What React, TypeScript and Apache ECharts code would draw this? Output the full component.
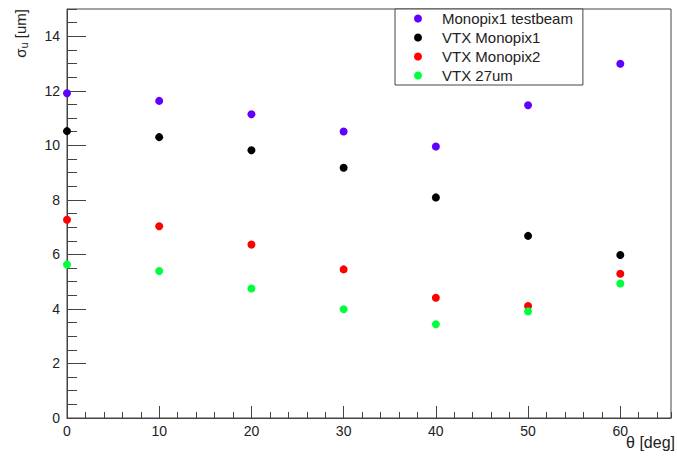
import React, { useEffect, useRef } from "react";
import * as echarts from "echarts";

const angles = [0, 10, 20, 30, 40, 50, 60];
const seriesNames = ["Monopix1 testbeam", "VTX Monopix1", "VTX Monopix2", "VTX 27um"];
const testbeam = [11.91, 11.63, 11.14, 10.51, 9.96, 11.47, 12.99];
const vtxMonopix1 = [10.52, 10.3, 9.82, 9.18, 8.09, 6.68, 5.98];
const vtxMonopix2 = [7.27, 7.03, 6.36, 5.45, 4.41, 4.11, 5.29];
const vtx27um = [5.63, 5.39, 4.75, 3.99, 3.44, 3.91, 4.93];
const seriesColors = ["#6000ff", "#000000", "#ff0000", "#00ff3c"];
const seriesValues = [testbeam, vtxMonopix1, vtxMonopix2, vtx27um];

const FONT = "'Liberation Sans', Arial, sans-serif";
const AXIS = "#444";
const TXT = "#222";

export default function App() {
  const ref = useRef<HTMLDivElement>(null);
  useEffect(() => {
    if (!ref.current) return;
    const chart = echarts.init(ref.current, undefined, { renderer: "svg" });
    chart.setOption({
      animation: false,
      backgroundColor: "#fff",
      textStyle: { fontFamily: FONT },
      grid: {
        left: 67,
        right: 6,
        top: 9,
        bottom: 39,
        show: true,
        borderColor: AXIS,
        borderWidth: 1,
        backgroundColor: "transparent",
      },
      legend: {
        orient: "vertical",
        left: 395,
        top: 9,
        padding: [0, 10, 0, 19],
        itemGap: 0,
        itemWidth: 8,
        itemHeight: 8,
        icon: "circle",
        borderColor: AXIS,
        borderWidth: 1,
        backgroundColor: "#fff",
        data: seriesNames,
        textStyle: {
          fontSize: 15,
          color: TXT,
          fontFamily: FONT,
          lineHeight: 19,
          padding: [0, 0, 0, 15],
        },
      },
      xAxis: [
        {
          type: "value",
          min: 0,
          max: 65.5,
          interval: 10,
          position: "bottom",
          axisLine: { show: true, lineStyle: { color: AXIS, width: 1 } },
          axisTick: { show: true, inside: true, length: 12, lineStyle: { color: AXIS } },
          axisLabel: { showMaxLabel: false, fontSize: 14, color: TXT, margin: 6, fontFamily: FONT },
          splitLine: { show: false },
        },
        {
          type: "value",
          min: 0,
          max: 65.5,
          interval: 2,
          position: "bottom",
          axisLine: { show: false },
          axisTick: { show: true, inside: true, length: 6, lineStyle: { color: AXIS } },
          axisLabel: { show: false },
          splitLine: { show: false },
        },
      ],
      yAxis: [
        {
          type: "value",
          min: 0,
          max: 15,
          interval: 2,
          position: "left",
          axisLine: { show: true, lineStyle: { color: AXIS, width: 1 } },
          axisTick: { show: true, inside: true, length: 19, lineStyle: { color: AXIS } },
          axisLabel: { showMaxLabel: false, fontSize: 14, color: TXT, margin: 7, fontFamily: FONT },
          splitLine: { show: false },
        },
        {
          type: "value",
          min: 0,
          max: 15,
          interval: 0.5,
          position: "left",
          axisLine: { show: false },
          axisTick: { show: true, inside: true, length: 10, lineStyle: { color: AXIS } },
          axisLabel: { show: false },
          splitLine: { show: false },
        },
      ],
      series: seriesNames.map((name, i) => ({
        name,
        type: "scatter",
        xAxisIndex: 0,
        yAxisIndex: 0,
        symbol: "circle",
        symbolSize: 8,
        itemStyle: { color: seriesColors[i], opacity: 1 },
        data: angles.map((a, j) => [a, seriesValues[i][j]]),
      })),
      graphic: [
        {
          type: "text",
          right: 2,
          top: 434,
          style: { text: "θ [deg]", fontSize: 16, fill: TXT, fontFamily: FONT },
        },
        {
          type: "text",
          x: 20,
          y: 9,
          rotation: Math.PI / 2,
          style: {
            text: "{a|σ}{b|u}{a| [um]}",
            align: "right",
            verticalAlign: "middle",
            fill: TXT,
            fontFamily: FONT,
            rich: {
              a: { fontSize: 15, fill: TXT, fontFamily: FONT },
              b: { fontSize: 11, fill: TXT, fontFamily: FONT, padding: [8, 0, 0, 0] },
            },
          },
        },
      ],
    });
    return () => chart.dispose();
  }, []);
  return (
    <div
      ref={ref}
      style={{ position: "fixed", left: 0, top: 0, width: 677, height: 457 }}
    />
  );
}
